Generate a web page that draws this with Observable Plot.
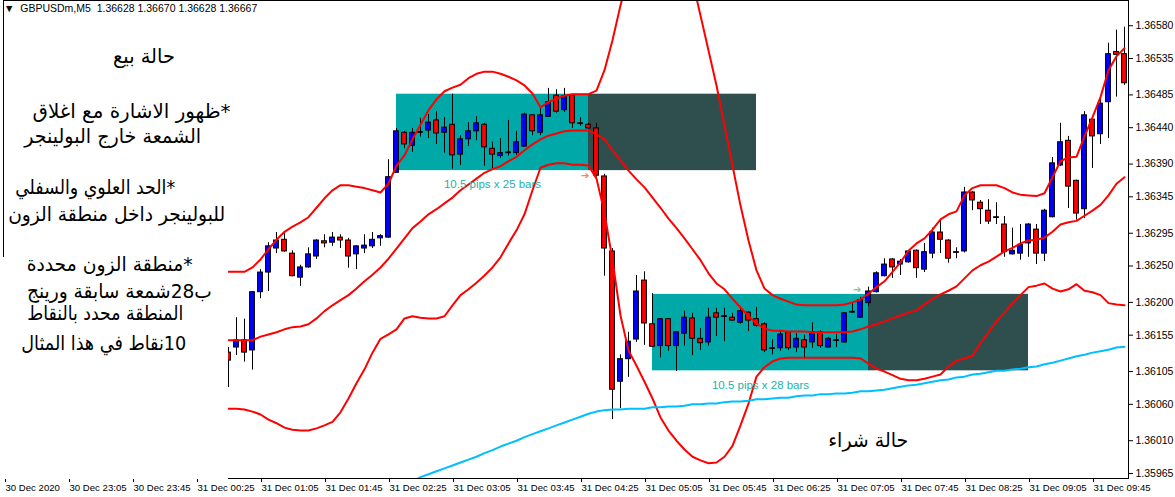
<!DOCTYPE html>
<html>
<head>
<meta charset="utf-8">
<script src="https://cdn.jsdelivr.net/npm/d3@7"></script>
<script src="https://cdn.jsdelivr.net/npm/@observablehq/plot@0.6"></script>
<style>
  html, body { margin: 0; padding: 0; background: #fff; }
  #wrap { position: relative; width: 1175px; height: 497px; overflow: hidden; background: #fff; }
  #wrap svg { position: absolute; left: 0; top: 0; }
  .title { position: absolute; left: 4px; top: 2px; font: 10.5px 'Liberation Sans', Arial, sans-serif; color: #000; white-space: pre; }
  .mask { position: absolute; background: #fff; }
  .ar { position: absolute; font-family: 'DejaVu Sans', sans-serif; color: #000; white-space: nowrap; direction: rtl; unicode-bidi: plaintext; text-align: center; line-height: 1; }
</style>
</head>
<body>
<div id="wrap"></div>
<script>
// ---------- data (GBPUSDm M5, 31 Dec 2020, first visible bar 00:45) ----------
const firstBar = "2020-12-31T00:45:00Z";
const open = [1.36131,1.36138,1.36148,1.36134,1.36214,1.36241,1.36274,1.36286,1.36267,1.36234,1.36248,1.36263,1.36284,1.36282,1.36289,1.36285,1.36266,1.36274,1.36277,1.36288,1.36289,1.36378,1.36433,1.36415,1.36433,1.36436,1.36450,1.36433,1.36444,1.36403,1.36424,1.36435,1.36444,1.36411,1.36401,1.36405,1.36405,1.36414,1.36457,1.36433,1.36455,1.36484,1.36464,1.36484,1.36446,1.36444,1.36439,1.36373,1.36270,1.36091,1.36122,1.36149,1.36230,1.36170,1.36140,1.36177,1.36140,1.36157,1.36178,1.36150,1.36145,1.36185,1.36181,1.36179,1.36172,1.36186,1.36177,1.36170,1.36137,1.36137,1.36159,1.36138,1.36148,1.36145,1.36159,1.36138,1.36148,1.36145,1.36186,1.36179,1.36199,1.36214,1.36236,1.36259,1.36252,1.36255,1.36271,1.36245,1.36267,1.36296,1.36285,1.36269,1.36270,1.36351,1.36337,1.36326,1.36317,1.36307,1.36266,1.36267,1.36281,1.36300,1.36267,1.36317,1.36388,1.36422,1.36367,1.36328,1.36451,1.36431,1.36475,1.36544,1.36541];
const high = [1.36138,1.36179,1.36177,1.36215,1.36245,1.36282,1.36296,1.36295,1.36271,1.36251,1.36275,1.36286,1.36293,1.36296,1.36293,1.36288,1.36278,1.36293,1.36296,1.36293,1.36396,1.36439,1.36435,1.36439,1.36453,1.36458,1.36462,1.36454,1.36486,1.36429,1.36447,1.36455,1.36446,1.36420,1.36425,1.36450,1.36435,1.36460,1.36458,1.36466,1.36494,1.36492,1.36494,1.36485,1.36454,1.36446,1.36446,1.36376,1.36274,1.36128,1.36159,1.36237,1.36242,1.36212,1.36178,1.36178,1.36160,1.36188,1.36185,1.36164,1.36192,1.36192,1.36192,1.36185,1.36193,1.36187,1.36193,1.36172,1.36149,1.36160,1.36160,1.36157,1.36155,1.36172,1.36161,1.36152,1.36156,1.36186,1.36199,1.36207,1.36221,1.36242,1.36260,1.36260,1.36259,1.36271,1.36272,1.36281,1.36302,1.36314,1.36286,1.36275,1.36358,1.36352,1.36340,1.36341,1.36337,1.36318,1.36302,1.36307,1.36308,1.36307,1.36328,1.36399,1.36446,1.36428,1.36368,1.36462,1.36452,1.36479,1.36556,1.36574,1.36578];
const low = [1.36083,1.36127,1.36118,1.36107,1.36205,1.36215,1.36267,1.36269,1.36235,1.36222,1.36247,1.36259,1.36275,1.36277,1.36274,1.36247,1.36245,1.36267,1.36274,1.36277,1.36288,1.36378,1.36411,1.36406,1.36427,1.36425,1.36417,1.36405,1.36383,1.36388,1.36414,1.36422,1.36387,1.36384,1.36398,1.36401,1.36402,1.36413,1.36429,1.36429,1.36454,1.36460,1.36461,1.36439,1.36442,1.36438,1.36372,1.36236,1.36039,1.36054,1.36097,1.36145,1.36141,1.36138,1.36124,1.36133,1.36105,1.36140,1.36127,1.36134,1.36140,1.36153,1.36146,1.36174,1.36170,1.36160,1.36166,1.36131,1.36128,1.36133,1.36134,1.36131,1.36122,1.36137,1.36137,1.36137,1.36138,1.36144,1.36185,1.36178,1.36194,1.36213,1.36235,1.36233,1.36237,1.36254,1.36233,1.36241,1.36260,1.36267,1.36254,1.36260,1.36268,1.36326,1.36307,1.36307,1.36307,1.36262,1.36265,1.36258,1.36262,1.36252,1.36256,1.36316,1.36387,1.36329,1.36313,1.36315,1.36384,1.36417,1.36425,1.36482,1.36498];
const close = [1.36120,1.36148,1.36131,1.36214,1.36241,1.36277,1.36285,1.36270,1.36236,1.36248,1.36266,1.36285,1.36281,1.36289,1.36285,1.36263,1.36277,1.36278,1.36286,1.36291,1.36372,1.36435,1.36417,1.36433,1.36434,1.36447,1.36432,1.36440,1.36402,1.36424,1.36435,1.36446,1.36413,1.36403,1.36405,1.36406,1.36420,1.36458,1.36435,1.36457,1.36475,1.36462,1.36483,1.36446,1.36445,1.36439,1.36374,1.36274,1.36080,1.36122,1.36146,1.36215,1.36171,1.36139,1.36177,1.36140,1.36159,1.36179,1.36150,1.36144,1.36179,1.36179,1.36180,1.36175,1.36188,1.36175,1.36168,1.36134,1.36136,1.36156,1.36137,1.36150,1.36138,1.36159,1.36140,1.36150,1.36147,1.36185,1.36187,1.36203,1.36215,1.36240,1.36252,1.36248,1.36256,1.36270,1.36247,1.36269,1.36296,1.36286,1.36260,1.36268,1.36351,1.36340,1.36328,1.36311,1.36316,1.36269,1.36271,1.36279,1.36307,1.36267,1.36326,1.36391,1.36420,1.36359,1.36322,1.36457,1.36428,1.36473,1.36541,1.36540,1.36501];
// Bollinger bands (red) and moving average (blue)
const bbUpper = [1.36242,1.36242,1.36242,1.36248,1.36259,1.36273,1.36286,1.36297,1.36304,1.36310,1.36317,1.36330,1.36343,1.36354,1.36361,1.36361,1.36359,1.36357,1.36354,1.36351,1.36363,1.36388,1.36402,1.36424,1.36444,1.36464,1.36479,1.36490,1.36495,1.36499,1.36508,1.36514,1.36517,1.36517,1.36514,1.36510,1.36505,1.36498,1.36487,1.36468,1.36475,1.36480,1.36484,1.36486,1.36486,1.36486,1.36491,1.36519,1.36560,1.36608,1.36649,1.36677,1.36694,1.36704,1.36708,1.36708,1.36700,1.36677,1.36642,1.36594,1.36546,1.36498,1.36443,1.36388,1.36333,1.36285,1.36244,1.36219,1.36210,1.36205,1.36201,1.36197,1.36196,1.36196,1.36196,1.36196,1.36196,1.36197,1.36200,1.36204,1.36212,1.36221,1.36229,1.36242,1.36255,1.36271,1.36281,1.36288,1.36300,1.36314,1.36321,1.36325,1.36347,1.36357,1.36361,1.36361,1.36361,1.36357,1.36351,1.36348,1.36347,1.36346,1.36350,1.36372,1.36394,1.36399,1.36400,1.36428,1.36454,1.36482,1.36519,1.36538,1.36549];
const bbMiddle = [1.36148,1.36148,1.36148,1.36148,1.36153,1.36156,1.36159,1.36163,1.36166,1.36167,1.36170,1.36178,1.36188,1.36196,1.36203,1.36210,1.36219,1.36229,1.36238,1.36248,1.36260,1.36274,1.36288,1.36302,1.36311,1.36321,1.36328,1.36336,1.36344,1.36354,1.36362,1.36370,1.36378,1.36383,1.36387,1.36394,1.36400,1.36409,1.36417,1.36424,1.36429,1.36432,1.36435,1.36436,1.36436,1.36436,1.36431,1.36424,1.36409,1.36395,1.36381,1.36369,1.36358,1.36344,1.36330,1.36315,1.36302,1.36288,1.36273,1.36258,1.36240,1.36226,1.36218,1.36205,1.36193,1.36181,1.36171,1.36164,1.36161,1.36161,1.36160,1.36160,1.36160,1.36159,1.36159,1.36159,1.36159,1.36159,1.36160,1.36163,1.36167,1.36170,1.36174,1.36178,1.36182,1.36186,1.36189,1.36197,1.36205,1.36211,1.36216,1.36222,1.36233,1.36244,1.36251,1.36256,1.36263,1.36270,1.36275,1.36281,1.36285,1.36286,1.36289,1.36297,1.36307,1.36310,1.36312,1.36319,1.36326,1.36334,1.36347,1.36363,1.36372];
const bbLower = [1.36054,1.36054,1.36053,1.36050,1.36046,1.36039,1.36034,1.36028,1.36025,1.36024,1.36024,1.36027,1.36031,1.36036,1.36049,1.36068,1.36089,1.36108,1.36131,1.36150,1.36156,1.36163,1.36178,1.36181,1.36179,1.36178,1.36178,1.36181,1.36196,1.36210,1.36218,1.36227,1.36237,1.36248,1.36262,1.36281,1.36299,1.36321,1.36354,1.36385,1.36389,1.36391,1.36391,1.36389,1.36389,1.36388,1.36370,1.36323,1.36258,1.36182,1.36134,1.36113,1.36091,1.36068,1.36042,1.36024,1.36010,1.35998,1.35988,1.35983,1.35979,1.35980,1.35988,1.36003,1.36031,1.36061,1.36098,1.36111,1.36119,1.36123,1.36124,1.36124,1.36124,1.36124,1.36124,1.36124,1.36124,1.36124,1.36124,1.36123,1.36116,1.36109,1.36105,1.36100,1.36095,1.36093,1.36093,1.36095,1.36098,1.36101,1.36112,1.36120,1.36123,1.36127,1.36144,1.36159,1.36174,1.36186,1.36199,1.36210,1.36221,1.36223,1.36226,1.36219,1.36215,1.36218,1.36225,1.36216,1.36214,1.36210,1.36199,1.36197,1.36196];
const maBlue = [null,null,null,null,null,null,null,null,null,null,null,null,null,null,null,null,null,null,null,null,null,null,1.35950,1.35954,1.35960,1.35964,1.35968,1.35972,1.35976,1.35980,1.35984,1.35988,1.35993,1.35997,1.36002,1.36006,1.36010,1.36015,1.36019,1.36023,1.36027,1.36031,1.36035,1.36039,1.36043,1.36047,1.36050,1.36052,1.36053,1.36053,1.36054,1.36054,1.36054,1.36056,1.36056,1.36057,1.36057,1.36058,1.36060,1.36060,1.36061,1.36061,1.36063,1.36064,1.36064,1.36065,1.36067,1.36067,1.36068,1.36069,1.36069,1.36071,1.36072,1.36072,1.36074,1.36074,1.36075,1.36075,1.36076,1.36078,1.36078,1.36079,1.36080,1.36082,1.36084,1.36086,1.36087,1.36089,1.36091,1.36093,1.36094,1.36097,1.36098,1.36101,1.36102,1.36104,1.36106,1.36106,1.36108,1.36109,1.36111,1.36112,1.36115,1.36117,1.36120,1.36123,1.36126,1.36128,1.36131,1.36133,1.36135,1.36138,1.36139];
// zones
const zoneStart = ["2020-12-31T02:30:00Z", "2020-12-31T05:10:00Z"];
const zoneEnd   = ["2020-12-31T04:30:00Z", "2020-12-31T07:25:00Z"];
const zoneExtEnd= ["2020-12-31T06:15:00Z", "2020-12-31T09:05:00Z"];
const zoneHigh  = [1.36486, 1.36211];
const zoneLow   = [1.36381, 1.36106];
const zoneLabel = ["10.5 pips x 25 bars", "10.5 pips x 28 bars"];
// signal arrows
const arrowTime  = ["2020-12-31T04:28:00Z", "2020-12-31T07:18:00Z"];
const arrowPrice = [1.36374, 1.36217];
const arrowColor = ["#FF7F50", "#66CDAA"];
// axes
const xTickTimes = ["2020-12-30T22:25:00Z","2020-12-30T23:05:00Z","2020-12-30T23:45:00Z","2020-12-31T00:25:00Z","2020-12-31T01:05:00Z","2020-12-31T01:45:00Z","2020-12-31T02:25:00Z","2020-12-31T03:05:00Z","2020-12-31T03:45:00Z","2020-12-31T04:25:00Z","2020-12-31T05:05:00Z","2020-12-31T05:45:00Z","2020-12-31T06:25:00Z","2020-12-31T07:05:00Z","2020-12-31T07:45:00Z","2020-12-31T08:25:00Z","2020-12-31T09:05:00Z","2020-12-31T09:45:00Z"];
const xTickLabels = ["30 Dec 2020","30 Dec 23:05","30 Dec 23:45","31 Dec 00:25","31 Dec 01:05","31 Dec 01:45","31 Dec 02:25","31 Dec 03:05","31 Dec 03:45","31 Dec 04:25","31 Dec 05:05","31 Dec 05:45","31 Dec 06:25","31 Dec 07:05","31 Dec 07:45","31 Dec 08:25","31 Dec 09:05","31 Dec 09:45"];
const yTicks = [1.35965,1.36010,1.36060,1.36105,1.36155,1.36200,1.36250,1.36295,1.36345,1.36390,1.36440,1.36485,1.36535,1.36580];
const titleText = "GBPUSDm,M5  1.36628 1.36670 1.36628 1.36667";
// annotations (Arabic)
const notes = [
  {text: "حالة بيع", cx: 144, cy: 56, w: 62},
  {text: "*ظهور الاشارة مع اغلاق", cx: 131, cy: 111, w: 198},
  {text: "الشمعة خارج البولينجر", cx: 113, cy: 136, w: 177},
  {text: "*الحد العلوي والسفلي", cx: 95, cy: 187, w: 160},
  {text: "للبولينجر داخل منطقة الزون", cx: 117, cy: 214, w: 217},
  {text: "*منطقة الزون  محددة", cx: 110, cy: 264, w: 166},
  {text: "ب28شمعة سابقة ورينج", cx: 119, cy: 291, w: 185},
  {text: "المنطقة محدد بالنقاط", cx: 105, cy: 313, w: 156},
  {text: "10نقاط في هذا المثال", cx: 104, cy: 343, w: 165},
  {text: "حالة شراء", cx: 868, cy: 440, w: 80}
];

// ---------- build ----------
const t0 = new Date(firstBar).getTime();
const bars = open.map((o, i) => ({
  t: new Date(t0 + i * 300000), o, h: high[i], l: low[i], c: close[i],
  up: bbUpper[i], mid: bbMiddle[i], lo: bbLower[i], ma: maBlue[i]
}));
const zones = zoneStart.map((s, i) => ({
  s: new Date(s), e: new Date(zoneEnd[i]), x: new Date(zoneExtEnd[i]),
  m: new Date((new Date(s).getTime() + new Date(zoneEnd[i]).getTime()) / 2),
  hi: zoneHigh[i], lo: zoneLow[i], label: zoneLabel[i]
}));
const arrows = arrowTime.map((t, i) => ({t: new Date(t), p: arrowPrice[i], color: arrowColor[i]}));
const labelByTime = new Map(xTickTimes.map((t, i) => [new Date(t).getTime(), xTickLabels[i]]));
const halfBody = 90000;

const chart = Plot.plot({
  width: 1175, height: 497,
  marginLeft: 3, marginRight: 47, marginTop: 0, marginBottom: 19,
  style: {fontFamily: "'Liberation Sans', Arial, sans-serif", fontSize: "10.5px", color: "#000", background: "transparent"},
  x: {type: "utc", domain: [new Date("2020-12-30T22:24:22.5Z"), new Date("2020-12-31T10:07:30Z")]},
  y: {domain: [1.359581, 1.366147]},
  marks: [
    Plot.rect(zones, {x1: "s", x2: "e", y1: "lo", y2: "hi", fill: "#00A8A8"}),
    Plot.rect(zones, {x1: "e", x2: "x", y1: "lo", y2: "hi", fill: "#2F4F4F"}),
    Plot.ruleX(bars, {x: "t", y1: "l", y2: "h", stroke: "#000", strokeWidth: 1}),
    Plot.rect(bars, {
      x1: d => new Date(d.t.getTime() - halfBody), x2: d => new Date(d.t.getTime() + halfBody),
      y1: "o", y2: "c", fill: d => d.c >= d.o ? "#0000FF" : "#FF0000", stroke: "#000", strokeWidth: 1
    }),
    Plot.line(bars, {x: "t", y: "up", stroke: "#FF0000", strokeWidth: 2, clip: true}),
    Plot.line(bars, {x: "t", y: "mid", stroke: "#FF0000", strokeWidth: 2, clip: true}),
    Plot.line(bars, {x: "t", y: "lo", stroke: "#FF0000", strokeWidth: 2, clip: true}),
    Plot.line(bars, {x: "t", y: "ma", stroke: "#00BFFF", strokeWidth: 2, clip: true}),
    Plot.text(zones, {x: "m", y: "lo", text: "label", dy: 14, fill: "#20B2AA", fontSize: 11.5}),
    Plot.text(arrows, {x: "t", y: "p", text: () => "➔", fill: "color", fontSize: 10, fontFamily: "DejaVu Sans"}),
    Plot.frame({stroke: "#000"}),
    Plot.axisY({anchor: "right", ticks: yTicks, tickFormat: d => d.toFixed(5), tickSize: 4, tickPadding: 3, label: null}),
    Plot.axisX({ticks: xTickTimes.map(t => new Date(t)), tickFormat: d => labelByTime.get(d.getTime()), tickSize: 4, tickPadding: 2, textAnchor: "start", dx: 1, fontSize: 9.6, label: null})
  ]
});

const wrap = document.getElementById("wrap");
wrap.appendChild(chart);

const mask = document.createElement("div");
mask.className = "mask";
Object.assign(mask.style, {left: "0px", top: "257px", width: "228px", height: "222px"});
wrap.appendChild(mask);

const title = document.createElement("div");
title.className = "title";
title.textContent = "▼  " + titleText;
wrap.appendChild(title);

for (const n of notes) {
  const d = document.createElement("div");
  d.className = "ar";
  d.textContent = n.text;
  d.style.fontSize = "20px";
  wrap.appendChild(d);
  const r = d.getBoundingClientRect();
  const s = n.w / r.width;
  d.style.left = (n.cx - r.width / 2) + "px";
  d.style.top = (n.cy - r.height / 2) + "px";
  d.style.transform = `scaleX(${s})`;
  d.style.transformOrigin = "50% 50%";
}
</script>
</body>
</html>
